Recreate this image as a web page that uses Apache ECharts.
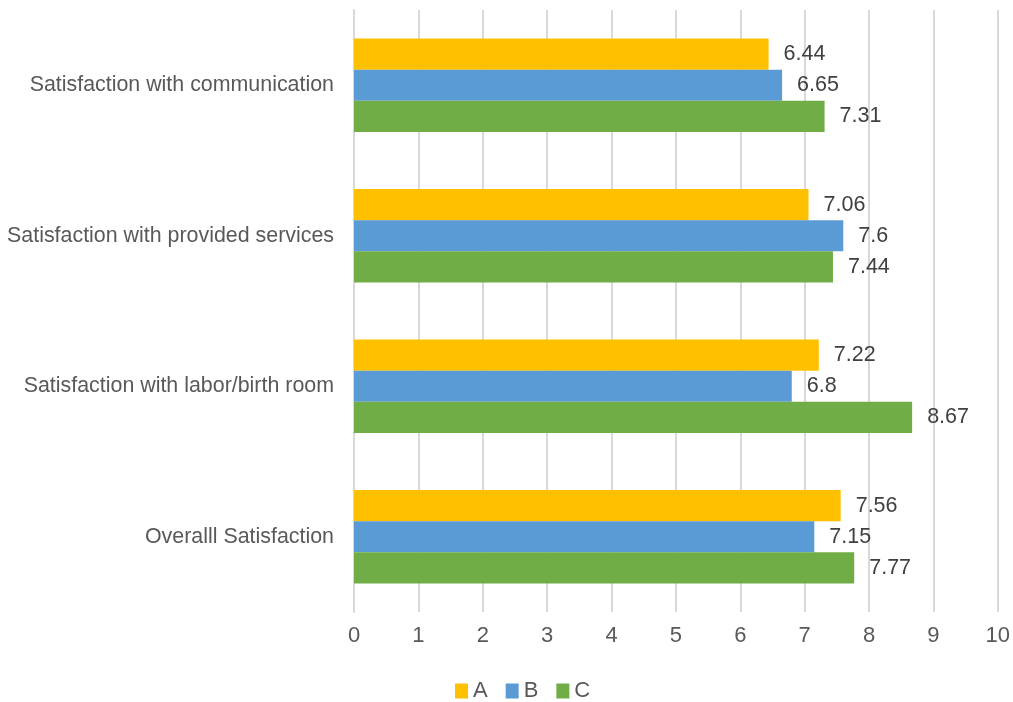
<!DOCTYPE html>
<html><head><meta charset="utf-8">
<script src="https://cdn.jsdelivr.net/npm/echarts@6/dist/echarts.min.js"></script>
<style>html,body{margin:0;padding:0;background:#fff}#c{width:1013px;height:702px}</style>
</head><body><div id="c"></div>
<script>
const categories = ["Satisfaction with communication", "Satisfaction with provided services", "Satisfaction with labor/birth room", "Overalll Satisfaction"];
const seriesNames = ["A", "B", "C"];
const valuesA = [6.44, 7.06, 7.22, 7.56];
const valuesB = [6.65, 7.6, 6.8, 7.15];
const valuesC = [7.31, 7.44, 8.67, 7.77];
const xTicks = [0, 1, 2, 3, 4, 5, 6, 7, 8, 9, 10];
const colors = ["#FFC000", "#5B9BD5", "#70AD47"];
const allValues = [valuesA, valuesB, valuesC];

const chart = echarts.init(document.getElementById('c'), null, {renderer: 'canvas'});
const font = "'Liberation Sans', Arial, sans-serif";
chart.setOption({
  animation: false,
  textStyle: {fontFamily: font},
  grid: {left: 354, right: 12, top: 10, bottom: 90, containLabel: false},
  legend: {
    top: 675, left: 450, itemWidth: 13, itemHeight: 15, itemGap: 18,
    icon: 'rect',
    textStyle: {fontSize: 22, color: '#595959', fontFamily: font},
    data: seriesNames
  },
  xAxis: {
    type: 'value', min: xTicks[0], max: xTicks[xTicks.length - 1], interval: 1,
    axisLine: {show: false}, axisTick: {show: false},
    splitLine: {show: true, lineStyle: {color: '#D9D9D9', width: 2}},
    axisLabel: {fontSize: 22, color: '#595959', margin: 13, fontFamily: font}
  },
  yAxis: {
    type: 'category', data: categories, inverse: true,
    axisLine: {show: true, lineStyle: {color: '#D9D9D9', width: 2}},
    axisTick: {show: false},
    axisLabel: {fontSize: 21.4, color: '#595959', margin: 20, fontFamily: font}
  },
  series: seriesNames.map((n, i) => ({
    name: n, type: 'bar', data: allValues[i],
    itemStyle: {color: colors[i]},
    barGap: '0%', barCategoryGap: '38%',
    label: {show: true, position: 'right', distance: 15, fontSize: 21.5, color: '#404040', fontFamily: font}
  }))
});
</script></body></html>
